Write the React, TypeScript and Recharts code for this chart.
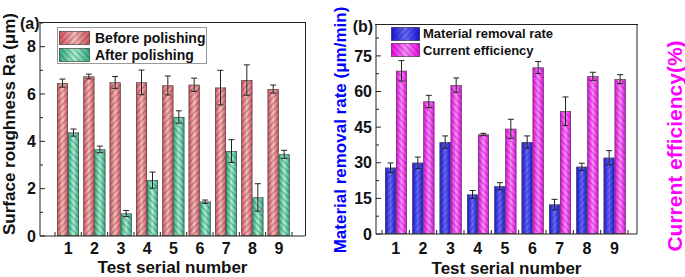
import React from 'react';
import { BarChart, Bar, XAxis, YAxis, ErrorBar, Legend } from 'recharts';

// ---------- data ----------
const categories = ['1', '2', '3', '4', '5', '6', '7', '8', '9'];
const beforeRa = [6.46, 6.74, 6.49, 6.49, 6.36, 6.39, 6.27, 6.59, 6.21];
const beforeRaErr = [0.17, 0.1, 0.25, 0.52, 0.4, 0.28, 0.73, 0.64, 0.17];
const afterRa = [4.37, 3.66, 0.95, 2.36, 5.03, 1.45, 3.59, 1.63, 3.45];
const afterRaErr = [0.15, 0.14, 0.13, 0.34, 0.26, 0.07, 0.48, 0.58, 0.17];
const removalRate = [27.9, 30.0, 38.7, 16.6, 20.1, 38.7, 12.4, 28.3, 32.1];
const removalRateErr = [2.0, 2.4, 2.6, 1.7, 1.5, 2.6, 2.2, 1.5, 3.0];
const currentEff = [68.7, 55.8, 62.7, 41.9, 44.3, 70.1, 51.7, 66.4, 65.2];
const currentEffErr = [4.3, 2.6, 3.0, 0.5, 4.0, 2.5, 6.0, 1.7, 1.9];

const ticksA = [0, 1, 2, 3, 4, 5, 6, 7, 8, 9];
const majorA = [0, 2, 4, 6, 8];
const ticksB = [0, 7.5, 15, 22.5, 30, 37.5, 45, 52.5, 60, 67.5, 75, 82.5];
const majorB = [0, 15, 30, 45, 60, 75];

const seriesA = ['Before polishing', 'After polishing'];
const seriesB = ['Material removal rate', 'Current efficiency'];

const dataA = categories.map((c, i) => ({
  cat: c,
  before: beforeRa[i],
  beforeErr: beforeRaErr[i],
  after: afterRa[i],
  afterErr: afterRaErr[i],
}));
const dataB = categories.map((c, i) => ({
  cat: c,
  mrr: removalRate[i],
  mrrErr: removalRateErr[i],
  ce: currentEff[i],
  ceErr: currentEffErr[i],
}));

// ---------- layout ----------
const FONT = '"Liberation Sans", Arial, Helvetica, sans-serif';
const AXIS = '#222';
const H = 277;
const A_X0 = 0, A_W = 330, A_TOP = 23, A_RIGHT = 25, A_LEFT_AXIS = 40, A_X_H = 41;
const B_X0 = 330, B_W = 355, B_TOP = 25, B_RIGHT = 48, B_LEFT_AXIS = 46, B_X_H = 43;
const BAND_A = (A_W - A_RIGHT - A_LEFT_AXIS - 28) / 9;
const BAND_B = (B_W - B_RIGHT - B_LEFT_AXIS - 15) / 9;

const makeShape = (grad: string, pat: string) => (props: any) => {
  const { x, y, width, height } = props;
  if (!height || height <= 0) return <g />;
  return (
    <g>
      <rect x={x} y={y} width={width} height={height} fill={`url(#${grad})`} />
      <rect x={x} y={y} width={width} height={height} fill={`url(#${pat})`} />
      <rect x={x + 0.35} y={y + 0.35} width={width - 0.7} height={height - 0.7} fill="none" stroke="#555" strokeWidth={0.7} />
    </g>
  );
};

const Swatch = ({ x, y, w, h, grad, pat }: any) => (
  <g>
    <rect x={x} y={y} width={w} height={h} fill={`url(#${grad})`} />
    <rect x={x} y={y} width={w} height={h} fill={`url(#${pat})`} />
    <rect x={x + 0.35} y={y + 0.35} width={w - 0.7} height={h - 0.7} fill="none" stroke="#555" strokeWidth={0.7} />
  </g>
);

const leftTick = (majors: number[]) => (props: any) => {
  const { x, y, payload } = props;
  const v = payload.value;
  const major = majors.includes(v);
  return (
    <g>
      <line x1={x} x2={x + (major ? 5 : 3)} y1={y} y2={y} stroke={AXIS} strokeWidth={1} />
      {major && (
        <text x={x - 4} y={y + 5.7} textAnchor="end" fontSize={16} fontWeight="bold" fill="#111" fontFamily={FONT}>
          {v}
        </text>
      )}
    </g>
  );
};

const rightTick = (majors: number[]) => (props: any) => {
  const { x, y, payload } = props;
  const v = payload.value;
  const major = majors.includes(v);
  return (
    <g>
      <line x1={x} x2={x - (major ? 5 : 3)} y1={y} y2={y} stroke={AXIS} strokeWidth={1} />
      {major && (
        <text x={x + 4} y={y + 5.7} textAnchor="start" fontSize={16} fontWeight="bold" fill="#111" fontFamily={FONT}>
          {v}
        </text>
      )}
    </g>
  );
};

const bottomTick = (half: number, dy: number, last: string) => (props: any) => {
  const { x, y, payload } = props;
  return (
    <g>
      <line x1={x - half} x2={x - half} y1={y} y2={y - 4} stroke={AXIS} strokeWidth={1} />
      {payload.value === last && <line x1={x + half} x2={x + half} y1={y} y2={y - 4} stroke={AXIS} strokeWidth={1} />}
      <text x={x} y={y + dy} textAnchor="middle" fontSize={16} fontWeight="bold" fill="#111" fontFamily={FONT}>
        {payload.value}
      </text>
    </g>
  );
};

const xTitle = (cx: number, y: number) => () => (
  <text x={cx} y={y} textAnchor="middle" fontSize={17} fontWeight="bold" fill="#111" fontFamily={FONT}>
    Test serial number
  </text>
);

const leftTitle = (text: string, cx: number, cy: number, color: string, tag: string, tx: number, ty: number) => () => (
  <g>
    <text
      x={cx}
      y={cy}
      transform={`rotate(-90, ${cx}, ${cy})`}
      textAnchor="middle"
      dominantBaseline="central"
      fontSize={17}
      fontWeight="bold"
      fill={color}
      fontFamily={FONT}
    >
      {text}
    </text>
    <text x={tx} y={ty} fontSize={16} fontWeight="bold" fill="#111" fontFamily={FONT}>
      {tag}
    </text>
  </g>
);

const rightTitle = (text: string, cx: number, cy: number, size: number, color: string) => () => (
  <text
    x={cx}
    y={cy}
    transform={`rotate(-90, ${cx}, ${cy})`}
    textAnchor="middle"
    dominantBaseline="central"
    fontSize={size}
    fontWeight="bold"
    fill={color}
    fontFamily={FONT}
  >
    {text}
  </text>
);

const LegendA = () => (
  <svg width={150} height={37} style={{ display: 'block' }}>
    <rect x={0.5} y={0.5} width={149} height={36} fill="#fff" stroke="#999" strokeWidth={1} />
    <Swatch x={2} y={4} w={31} h={14} grad="gRed" pat="hFwd" />
    <Swatch x={2} y={21} w={31} h={14} grad="gGreen" pat="hBack" />
    <text x={38} y={15.5} fontSize={14} fontWeight="bold" fill="#111" fontFamily={FONT}>{seriesA[0]}</text>
    <text x={38} y={32.5} fontSize={14} fontWeight="bold" fill="#111" fontFamily={FONT}>{seriesA[1]}</text>
  </svg>
);

const LegendB = () => (
  <svg width={175} height={34} style={{ display: 'block' }}>
    <Swatch x={0} y={1} w={29} h={14} grad="gBlue" pat="hFwd" />
    <Swatch x={0} y={17} w={29} h={14} grad="gPink" pat="hBack" />
    <text x={32} y={12} fontSize={13} fontWeight="bold" fill="#111" fontFamily={FONT}>{seriesB[0]}</text>
    <text x={32} y={29} fontSize={13} fontWeight="bold" fill="#111" fontFamily={FONT}>{seriesB[1]}</text>
  </svg>
);

const Defs = () => (
  <svg width={0} height={0} style={{ position: 'absolute' }}>
    <defs>
      <linearGradient id="gRed" x1="0" x2="1" y1="0" y2="0">
        <stop offset="0%" stopColor="#d6505a" />
        <stop offset="50%" stopColor="#f8bcbc" />
        <stop offset="100%" stopColor="#d6505a" />
      </linearGradient>
      <linearGradient id="gGreen" x1="0" x2="1" y1="0" y2="0">
        <stop offset="0%" stopColor="#2eac7c" />
        <stop offset="50%" stopColor="#a8f2d4" />
        <stop offset="100%" stopColor="#2eac7c" />
      </linearGradient>
      <linearGradient id="gBlue" x1="0" x2="1" y1="0" y2="0">
        <stop offset="0%" stopColor="#1010e0" />
        <stop offset="50%" stopColor="#6a6aff" />
        <stop offset="100%" stopColor="#1010e0" />
      </linearGradient>
      <linearGradient id="gPink" x1="0" x2="1" y1="0" y2="0">
        <stop offset="0%" stopColor="#f000f0" />
        <stop offset="50%" stopColor="#ff8cff" />
        <stop offset="100%" stopColor="#f000f0" />
      </linearGradient>
      <pattern id="hFwd" patternUnits="userSpaceOnUse" width={4.5} height={4.5} patternTransform="rotate(45)">
        <line x1={1} y1={0} x2={1} y2={4.5} stroke="rgba(40,30,40,0.55)" strokeWidth={0.8} />
      </pattern>
      <pattern id="hBack" patternUnits="userSpaceOnUse" width={4.5} height={4.5} patternTransform="rotate(-45)">
        <line x1={1} y1={0} x2={1} y2={4.5} stroke="rgba(40,30,40,0.55)" strokeWidth={0.8} />
      </pattern>
    </defs>
  </svg>
);

// top and right edges of each panel's frame (decoration only)
const Frames = () => {
  const aL = A_X0 + A_LEFT_AXIS, aR = A_X0 + A_W - A_RIGHT, aB = H - A_X_H;
  const bL = B_X0 + B_LEFT_AXIS, bR = B_X0 + B_W - B_RIGHT, bB = H - B_X_H;
  return (
    <>
      <div
        style={{
          position: 'absolute', left: aL - 1, top: A_TOP - 1, width: aR - aL + 2, height: aB - A_TOP + 1,
          borderTop: `1.5px solid ${AXIS}`, borderRight: `1.5px solid ${AXIS}`, boxSizing: 'border-box',
          pointerEvents: 'none', zIndex: 5,
        }}
      />
      <div
        style={{
          position: 'absolute', left: bL - 1, top: B_TOP - 1, width: bR - bL + 2, height: bB - B_TOP,
          borderTop: `1.5px solid ${AXIS}`, boxSizing: 'border-box',
          pointerEvents: 'none', zIndex: 5,
        }}
      />
    </>
  );
};

export default function App() {
  const aBottom = H - A_X_H;
  const bBottom = H - B_X_H;
  return (
    <div style={{ position: 'absolute', left: 0, top: 0, width: 685, height: H, background: '#fff', fontFamily: FONT }}>
      <Defs />
      <div style={{ position: 'absolute', left: A_X0, top: 0 }}>
        <BarChart width={A_W} height={H} data={dataA} margin={{ top: A_TOP, right: A_RIGHT, bottom: 0, left: 0 }} barSize={11} barGap={0} barCategoryGap={0}>
          <XAxis
            dataKey="cat"
            height={A_X_H}
            padding={{ left: 15, right: 13 }}
            tickLine={false}
            tickSize={0}
            tickMargin={0}
            interval={0}
            axisLine={{ stroke: AXIS }}
            tick={bottomTick(BAND_A / 2, 18, '9')}
            label={xTitle((A_LEFT_AXIS + A_W - A_RIGHT) / 2, aBottom + 36.7)}
          />
          <YAxis
            domain={[0, 9]}
            ticks={ticksA}
            width={A_LEFT_AXIS}
            interval={0}
            tickLine={false}
            tickSize={0}
            tickMargin={0}
            axisLine={{ stroke: AXIS }}
            tick={leftTick(majorA)}
            label={leftTitle('Surface roughness Ra (μm)', 9, 124, '#111', '(a)', 20, 28.5)}
          />
          <Legend
            layout="vertical"
            align="center"
            verticalAlign="middle"
            content={() => <LegendA />}
            wrapperStyle={{ left: 57, top: 27, width: 150, height: 37, right: 'auto', bottom: 'auto' }}
          />
          <Bar dataKey="before" name={seriesA[0]} isAnimationActive={false} shape={makeShape('gRed', 'hFwd')}>
            <ErrorBar dataKey="beforeErr" width={3} stroke="#222" strokeWidth={1} direction="y" />
          </Bar>
          <Bar dataKey="after" name={seriesA[1]} isAnimationActive={false} shape={makeShape('gGreen', 'hBack')}>
            <ErrorBar dataKey="afterErr" width={3} stroke="#222" strokeWidth={1} direction="y" />
          </Bar>
        </BarChart>
      </div>
      <div style={{ position: 'absolute', left: B_X0, top: 0 }}>
        <BarChart width={B_W} height={H} data={dataB} margin={{ top: B_TOP, right: 0, bottom: 0, left: 0 }} barSize={11} barGap={0} barCategoryGap={0}>
          <XAxis
            dataKey="cat"
            height={B_X_H}
            padding={{ left: 6, right: 9 }}
            tickLine={false}
            tickSize={0}
            tickMargin={0}
            interval={0}
            axisLine={{ stroke: AXIS }}
            tick={bottomTick(BAND_B / 2, 20, '9')}
            label={xTitle((B_LEFT_AXIS + B_W - B_RIGHT) / 2, bBottom + 39.7)}
          />
          <YAxis
            domain={[0, 88]}
            ticks={ticksB}
            width={B_LEFT_AXIS}
            interval={0}
            tickLine={false}
            tickSize={0}
            tickMargin={0}
            axisLine={{ stroke: AXIS }}
            tick={leftTick(majorB)}
            label={leftTitle('Material removal rate (μm/min)', 10, 130, '#0000ff', '(b)', 22.7, 31.6)}
          />
          <YAxis
            yAxisId="r"
            orientation="right"
            domain={[0, 88]}
            ticks={ticksB}
            width={B_RIGHT}
            interval={0}
            tickLine={false}
            tickSize={0}
            tickMargin={0}
            axisLine={{ stroke: AXIS }}
            tick={rightTick(majorB)}
            label={rightTitle('Current efficiency(%)', 344, 146, 21, '#ff00ff')}
          />
          <Legend
            layout="vertical"
            align="center"
            verticalAlign="middle"
            content={() => <LegendB />}
            wrapperStyle={{ left: 61, top: 26, width: 175, height: 34, right: 'auto', bottom: 'auto' }}
          />
          <Bar dataKey="mrr" name={seriesB[0]} isAnimationActive={false} shape={makeShape('gBlue', 'hFwd')}>
            <ErrorBar dataKey="mrrErr" width={3} stroke="#222" strokeWidth={1} direction="y" />
          </Bar>
          <Bar dataKey="ce" name={seriesB[1]} isAnimationActive={false} shape={makeShape('gPink', 'hBack')}>
            <ErrorBar dataKey="ceErr" width={3} stroke="#222" strokeWidth={1} direction="y" />
          </Bar>
        </BarChart>
      </div>
      <Frames />
    </div>
  );
}
